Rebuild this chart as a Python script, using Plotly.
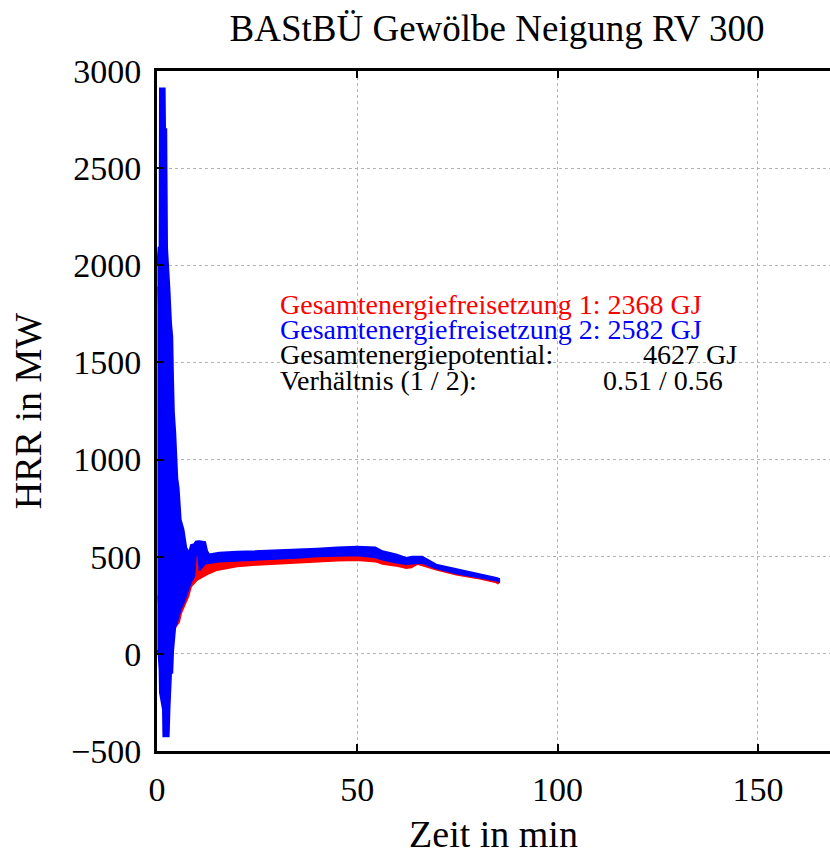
import plotly.graph_objects as go

# Time axis (min) and HRR envelopes (MW) of the two fire scenarios
red_t = [0.3, 1.0, 2.0, 3.0, 4.0, 5.0, 5.5, 6.0, 6.8, 7.8, 8.5, 9.3, 9.7, 10.3, 10.6,
         12.0, 13.0, 15.0, 20, 25, 30, 35, 40, 45, 50, 54.5, 56.3, 59.7, 62.2, 63.5,
         65.0, 66.2, 69.7, 74.7, 79.7, 84.7, 85.2]
red_hi = [1890, 1500, 1000, 700, 500, 300, 230, 270, 300, 350, 400, 460, 512, 512, 450,
          470, 475, 482, 490, 495, 500, 505, 510, 512, 515, 505, 495, 480, 470, 472,
          485, 482, 455, 430, 410, 388, 385]
red_lo = [300, 150, 100, 100, 120, 150, 165, 210, 245, 296, 348, 365, 375, 385, 390,
          405, 415, 432, 451, 459, 465, 471, 475, 480, 483, 476, 464, 454, 442, 446,
          463, 458, 434, 408, 391, 368, 362]

blue_t = [0.1, 0.4, 0.65, 0.75, 1.5, 1.6, 1.9, 2.0, 2.3, 2.5, 2.9, 3.1, 3.5, 3.8, 4.0,
          4.2, 4.55, 4.8, 5.05, 5.4, 5.65, 5.9, 6.6, 7.3, 8.0, 8.5, 9.3, 9.7, 10.3, 10.6,
          12.0, 12.5, 13.0, 15.5, 20, 25, 30, 35, 40, 45, 50, 54.5, 56.3, 59.7, 62.2,
          63.7, 66.2, 69.7, 74.7, 79.7, 84.7, 85.4]
blue_hi = [2000, 2090, 2090, 2910, 2910, 2910, 2910, 2700, 2700, 2090, 1890, 1875, 1700,
           1632, 1410, 1245, 1137, 1008, 905, 850, 725, 690, 640, 546, 520, 560, 565, 578,
           580, 580, 575, 530, 512, 520, 525, 528, 534, 537, 541, 547, 551, 547, 528, 511,
           494, 500, 500, 459, 437, 413, 391, 386]
blue_lo = [20, 0, -80, -200, -287, -424, -424, -424, -424, -424, -424, -287, -97, -97, 12,
           60, 140, 150, 160, 190, 210, 230, 260, 300, 340, 370, 400, 510, 510, 430, 465,
           465, 468, 475, 482, 486, 490, 495, 502, 505, 508, 497, 485, 470, 462, 465, 468,
           440, 415, 398, 378, 372]

x_ticks = [0, 50, 100, 150]
y_ticks = [-500, 0, 500, 1000, 1500, 2000, 2500, 3000]

info_lines = [
    ("Gesamtenergiefreisetzung 1: 2368 GJ", "#ff0000"),
    ("Gesamtenergiefreisetzung 2: 2582 GJ", "#0000ff"),
]
info_pairs = [
    ("Gesamtenergiepotential:", "4627 GJ"),
    ("Verhältnis (1 / 2):", "0.51 / 0.56"),
]

FONT = "Liberation Serif"

fig = go.Figure()


def add_band(t, lo, hi, color):
    xs = list(t) + list(t)[::-1]
    ys = list(hi) + list(lo)[::-1]
    fig.add_trace(go.Scatter(x=xs, y=ys, mode="lines", fill="toself",
                             fillcolor=color, line=dict(color=color, width=2),
                             hoverinfo="skip", showlegend=False))


add_band(red_t, red_lo, red_hi, "#ff0000")
add_band(blue_t, blue_lo, blue_hi, "#0000ff")

# text block with energy totals
ys_info = [1797, 1668, 1540, 1406]
for (txt, col), yy in zip(info_lines, ys_info[:2]):
    fig.add_annotation(x=30.2, y=yy, text=txt, showarrow=False, xanchor="left",
                       yanchor="middle", font=dict(family=FONT, size=28, color=col))
for (lab, val), yy, xr in zip(info_pairs, ys_info[2:], [145.3, 141.8]):
    fig.add_annotation(x=30.2, y=yy, text=lab, showarrow=False, xanchor="left",
                       yanchor="middle", font=dict(family=FONT, size=28, color="black"))
    fig.add_annotation(x=xr, y=yy, text=val, showarrow=False, xanchor="right",
                       yanchor="middle", font=dict(family=FONT, size=28, color="black"))

axis_common = dict(
    showline=True, linewidth=3, linecolor="black",
    ticks="inside", ticklen=7, tickwidth=2, tickcolor="black",
    showgrid=True, gridcolor="#b4b4b4", griddash="dot", gridwidth=1,
    zeroline=False,
    tickfont=dict(family=FONT, size=34, color="black"),
)

fig.update_layout(
    width=830, height=857, autosize=False,
    margin=dict(l=157, r=0, t=71, b=106),
    paper_bgcolor="white", plot_bgcolor="white",
    title=dict(text="BAStBÜ Gewölbe Neigung RV 300", x=497 / 830, xanchor="center",
               xref="container", y=1 - 28 / 857, yanchor="middle",
               font=dict(family=FONT, size=37, color="black")),
    xaxis=dict(range=[0, 168], tickvals=x_ticks, mirror="ticks",
               title=dict(text="Zeit in min", font=dict(family=FONT, size=38, color="black"),
                          standoff=14),
               ticklabelstandoff=6,
               **axis_common),
    yaxis=dict(range=[-500, 3000], tickvals=y_ticks, mirror=False,
               title=dict(text="HRR in MW", font=dict(family=FONT, size=38, color="black"),
                          standoff=18),
               ticklabelstandoff=6,
               **axis_common),
    showlegend=False,
)

fig.write_html("out.html")
